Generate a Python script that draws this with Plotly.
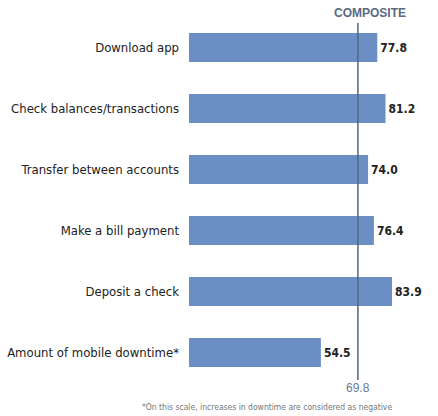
import plotly.graph_objects as go

categories = ["Download app", "Check balances/transactions", "Transfer between accounts",
              "Make a bill payment", "Deposit a check", "Amount of mobile downtime*"]
values = [77.8, 81.2, 74.0, 76.4, 83.9, 54.5]
composite = 69.8
footnote = "*On this scale, increases in downtime are considered as negative"

W, H = 438, 416
ml, mr, mt, mb = 189, 7, 17, 33
plot_w = W - ml - mr
plot_h = H - mt - mb

def px(p):
    return (p - ml) / plot_w

def py(p):
    return (H - mb - p) / plot_h

label_font = "DejaVu Sans Condensed, Liberation Sans Narrow, Arial Narrow, sans-serif"

fig = go.Figure()
fig.add_trace(go.Bar(
    x=values, y=categories, orientation="h",
    marker=dict(color="#6b8fc5", line=dict(width=0)),
    text=[f"{v:.1f}" for v in values], textposition="outside",
    textfont=dict(family=label_font, size=12, color="#222222", weight="bold"),
    cliponaxis=False, width=0.475,
))

fig.add_shape(type="line", xref="x", yref="paper", x0=composite, x1=composite,
              y0=py(380), y1=py(23), line=dict(color="#55657a", width=1.5), layer="above")
fig.add_annotation(x=composite, xref="x", y=py(388), yref="paper", text=f"{composite:.1f}",
                   showarrow=False, font=dict(family="Liberation Sans, Arial, sans-serif", size=12, color="#6a7a95"),
                   xanchor="center", yanchor="middle")
fig.add_annotation(x=px(370), xref="paper", y=py(13), yref="paper", text="<b>COMPOSITE</b>",
                   showarrow=False, xanchor="center", yanchor="middle",
                   font=dict(family="Liberation Sans, Arial, sans-serif", size=12, color="#5a6a82"))
fig.add_annotation(x=px(140), xref="paper", y=py(407), yref="paper", text=footnote,
                   showarrow=False, xanchor="left", yanchor="middle",
                   font=dict(family=label_font, size=8.5, color="#777777"))

fig.update_layout(
    width=W, height=H, margin=dict(l=ml, r=mr, t=mt, b=mb, autoexpand=False),
    paper_bgcolor="white", plot_bgcolor="white", showlegend=False,
    xaxis=dict(range=[0, 100], visible=False, fixedrange=True),
    yaxis=dict(autorange="reversed", showgrid=False, showline=False, zeroline=False,
               ticks="", ticklabelstandoff=9, automargin=False,
               tickfont=dict(family=label_font, size=13, color="#222222")),
)
fig.write_html("out.html")
